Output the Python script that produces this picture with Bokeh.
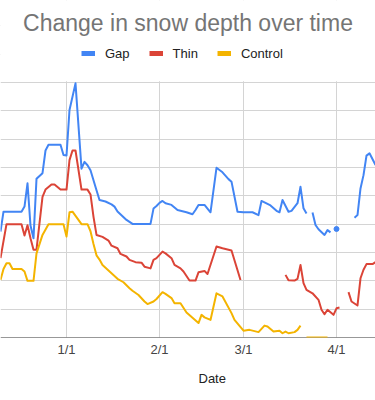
import math
from datetime import datetime
import pandas as pd
from bokeh.plotting import figure
from bokeh.models import (Range1d, DatetimeTickFormatter, MonthsTicker, SingleIntervalTicker,
                          Legend, LegendItem, Span, Title, Label, BoxAnnotation)
from bokeh.embed import file_html
from bokeh.resources import INLINE

nan = float("nan")

title_text = "Change in snow depth over time"
x_title = "Date"
series_names = ["Gap", "Thin", "Control"]
series_colors = ["#4285F4", "#DB4437", "#F4B400"]

gap_dates = ["2018-12-10", "2018-12-11", "2018-12-17", "2018-12-18", "2018-12-19", "2018-12-20",
             "2018-12-21", "2018-12-22", "2018-12-24", "2018-12-25", "2018-12-26", "2018-12-30",
             "2018-12-31", "2019-01-01", "2019-01-02", "2019-01-04", "2019-01-06", "2019-01-07",
             "2019-01-08", "2019-01-09", "2019-01-11", "2019-01-12", "2019-01-14", "2019-01-16",
             "2019-01-17", "2019-01-18", "2019-01-21", "2019-01-23", "2019-01-29", "2019-01-30",
             "2019-01-31", "2019-02-01", "2019-02-02", "2019-02-03", "2019-02-05", "2019-02-07",
             "2019-02-10", "2019-02-12", "2019-02-13", "2019-02-14", "2019-02-16", "2019-02-18",
             "2019-02-20", "2019-02-22", "2019-02-24", "2019-02-25", "2019-02-27", "2019-03-01",
             "2019-03-04", "2019-03-06", "2019-03-07", "2019-03-08", "2019-03-10", "2019-03-12",
             "2019-03-13", "2019-03-14", "2019-03-16", "2019-03-17", "2019-03-19", "2019-03-20",
             "2019-03-21", "2019-03-22", "2019-03-23", "2019-03-24", "2019-03-25", "2019-03-26",
             "2019-03-28", "2019-03-29", "2019-03-30", "2019-03-31", "2019-04-01", "2019-04-02",
             "2019-04-07", "2019-04-08", "2019-04-09", "2019-04-10", "2019-04-11", "2019-04-12",
             "2019-04-14"]
gap_values = [37.4, 44.4, 44.4, 46.2, 54.4, 39.5,
              35.0, 56.0, 58.0, 66.0, 68.0, 68.0,
              64.4, 64.2, 80.3, 89.7, 59.6, 62.0,
              60.8, 59.0, 52.0, 48.5, 48.0, 47.0,
              46.2, 44.5, 41.5, 40.1, 40.1, 45.5,
              46.4, 47.5, 48.2, 47.4, 46.8, 45.0,
              44.2, 43.5, 45.0, 46.8, 46.8, 44.2,
              59.9, 58.3, 55.9, 55.0, 44.4, 44.2,
              44.2, 43.2, 48.2, 47.7, 46.6, 44.7,
              44.2, 48.5, 44.4, 44.7, 47.4, 53.2,
              45.6, 43.8, nan, 44.1, 39.7, 38.2,
              36.2, 37.9, 37.1, nan, 38.3, nan,
              42.3, 43.2, 52.6, 57.3, 64.2, 65.0,
              60.9]

thin_dates = ["2018-12-10", "2018-12-12", "2018-12-17", "2018-12-18", "2018-12-19", "2018-12-20",
              "2018-12-21", "2018-12-22", "2018-12-24", "2018-12-25", "2018-12-27", "2018-12-28",
              "2018-12-30", "2019-01-01", "2019-01-02", "2019-01-03", "2019-01-04", "2019-01-06",
              "2019-01-08", "2019-01-09", "2019-01-10", "2019-01-11", "2019-01-13", "2019-01-15",
              "2019-01-16", "2019-01-18", "2019-01-19", "2019-01-21", "2019-01-22", "2019-01-24",
              "2019-01-26", "2019-01-27", "2019-01-29", "2019-01-30", "2019-01-31", "2019-02-02",
              "2019-02-03", "2019-02-05", "2019-02-06", "2019-02-08", "2019-02-09", "2019-02-11",
              "2019-02-13", "2019-02-14", "2019-02-16", "2019-02-17", "2019-02-20", "2019-02-22",
              "2019-02-25", "2019-02-28", "2019-03-01", "2019-03-15", "2019-03-16", "2019-03-18",
              "2019-03-19", "2019-03-20", "2019-03-21", "2019-03-22", "2019-03-24", "2019-03-26",
              "2019-03-27", "2019-03-28", "2019-03-29", "2019-03-31", "2019-04-01", "2019-04-02",
              "2019-04-03", "2019-04-05", "2019-04-06", "2019-04-08", "2019-04-09", "2019-04-10",
              "2019-04-11", "2019-04-13", "2019-04-14"]
thin_values = [28.0, 40.0, 40.0, 36.0, 39.6, 35.0,
               31.0, 31.0, 49.6, 52.2, 54.0, 54.0,
               52.2, 52.2, 62.6, 66.0, 66.0, 52.2,
               52.2, 50.5, 42.6, 36.2, 35.5, 34.2,
               32.4, 31.5, 29.5, 28.6, 27.4, 26.6,
               26.4, 25.0, 24.4, 27.4, 28.0, 30.3,
               29.7, 28.0, 25.6, 24.4, 23.3, 20.1,
               20.1, 23.0, 23.5, 22.4, 32.1, 31.5,
               30.7, 20.3, nan, 22.1, 20.2, 20.1,
               20.7, 25.6, 19.2, 16.8, 15.6, 13.3,
               9.8, 8.2, 9.8, 8.0, 10.3, 10.6,
               nan, 16.0, 12.7, 11.3, 20.9, 23.9,
               25.9, 25.9, 26.6]

control_dates = ["2018-12-10", "2018-12-11", "2018-12-12", "2018-12-13", "2018-12-14", "2018-12-17",
                 "2018-12-18", "2018-12-19", "2018-12-21", "2018-12-22", "2018-12-24", "2018-12-26",
                 "2018-12-31", "2019-01-01", "2019-01-02", "2019-01-03", "2019-01-06", "2019-01-08",
                 "2019-01-09", "2019-01-10", "2019-01-11", "2019-01-12", "2019-01-13", "2019-01-16",
                 "2019-01-18", "2019-01-20", "2019-01-22", "2019-01-23", "2019-01-25", "2019-01-27",
                 "2019-01-28", "2019-01-30", "2019-01-31", "2019-02-02", "2019-02-03", "2019-02-05",
                 "2019-02-06", "2019-02-08", "2019-02-10", "2019-02-14", "2019-02-15", "2019-02-16",
                 "2019-02-18", "2019-02-20", "2019-02-22", "2019-02-25", "2019-02-26", "2019-03-01",
                 "2019-03-03", "2019-03-06", "2019-03-08", "2019-03-09", "2019-03-11", "2019-03-13",
                 "2019-03-14", "2019-03-15", "2019-03-16", "2019-03-18", "2019-03-19", "2019-03-20",
                 "2019-03-21", "2019-03-22", "2019-03-29"]
control_values = [20.3, 24.2, 26.2, 26.2, 24.2, 24.2,
                  23.3, 20.0, 20.0, 29.7, 36.2, 40.0,
                  40.0, 35.6, 44.2, 44.4, 40.0, 40.0,
                  37.5, 33.0, 29.0, 27.5, 25.6, 22.7,
                  20.7, 19.5, 17.4, 16.5, 15.0, 12.7,
                  11.8, 12.7, 13.6, 16.0, 15.4, 13.9,
                  12.1, 12.1, 8.8, 5.1, 8.0, 7.1,
                  6.2, 15.6, 14.5, 8.6, 6.2, 2.4,
                  2.7, 1.9, 4.2, 3.9, 2.1, 2.4,
                  1.5, 2.1, 1.5, 1.9, 2.7, 4.2,
                  nan, 0.0, 0.0]

x_start = datetime(2018, 12, 10)
x_end = datetime(2019, 4, 14)
y_max = 90
y_step = 10

FONT = "Liberation Sans"

# layout (pixels)
W, H = 375, 400
frame_bottom = 337          # page y of the baseline
grid_top = 82               # page y of the top gridline (y_max)
y_top = y_max * frame_bottom / (frame_bottom - grid_top)   # frame reaches the page top

p = figure(width=W, height=H, x_axis_type="datetime", output_backend="svg",
           toolbar_location=None, title=None,
           x_range=Range1d(x_start, x_end), y_range=Range1d(0, y_top),
           min_border_left=0, min_border_right=0, min_border_top=0,
           min_border_bottom=H - frame_bottom)
p.outline_line_color = None
p.background_fill_color = "white"
p.border_fill_color = "white"

# grids
p.ygrid.ticker = SingleIntervalTicker(interval=y_step)
p.xgrid.ticker = MonthsTicker(months=list(range(12)))
p.grid.grid_line_color = "#d4d4d4"
p.grid.grid_line_width = 1
# blank out the area above the chart (title/legend area)
p.add_layout(BoxAnnotation(bottom=y_max + 0.4, fill_color="white", fill_alpha=1,
                           line_color=None, level="underlay"))

# baseline
p.add_layout(Span(location=0, dimension="width", line_color="#333333", line_width=1,
                  level="underlay"))

# data lines
all_series = [(gap_dates, gap_values), (thin_dates, thin_values), (control_dates, control_values)]
for (dates, vals), color in zip(all_series, series_colors):
    xs = pd.to_datetime(dates)
    p.line(x=xs, y=vals, line_color=color, line_width=2, line_join="round")
    iso_x, iso_y = [], []
    for i, v in enumerate(vals):
        if math.isnan(v):
            continue
        left = i == 0 or math.isnan(vals[i - 1])
        right = i == len(vals) - 1 or math.isnan(vals[i + 1])
        if left and right:
            iso_x.append(xs[i])
            iso_y.append(v)
    if iso_x:
        p.scatter(x=iso_x, y=iso_y, size=5, fill_color=color, line_color=color)

# axes
p.yaxis.visible = False
xa = p.xaxis[0]
xa.ticker = MonthsTicker(months=list(range(12)))
fmt = "%-m/%-d"
xa.formatter = DatetimeTickFormatter(days=fmt, months=fmt, years=fmt, hours=fmt, hourmin=fmt)
xa.axis_line_color = None
xa.major_tick_line_color = None
xa.minor_tick_line_color = None
xa.major_tick_out = 0
xa.major_tick_in = 0
xa.major_label_standoff = 4
xa.major_label_text_font = FONT
xa.major_label_text_font_size = "13px"
xa.major_label_text_color = "#444444"

# title inside the (extended) frame
p.add_layout(Label(x=187.5, y=frame_bottom - 22, x_units="screen", y_units="screen",
                   text=title_text, text_font=FONT, text_font_size="23px",
                   text_color="#757575", text_align="center", text_baseline="alphabetic"))

# legend inside the (extended) frame; swatch renderers hold one missing point
dummies = [p.line(x=[x_start], y=[nan], line_color=c, line_width=5) for c in series_colors]
legend = Legend(items=[LegendItem(label=n, renderers=[r]) for n, r in zip(series_names, dummies)],
                location=(81, frame_bottom - 53 - 7.5), orientation="horizontal",
                glyph_width=14, glyph_height=14, label_standoff=10, spacing=19,
                padding=0, margin=0, border_line_color=None, background_fill_alpha=0,
                label_text_font=FONT, label_text_font_size="13px", label_text_color="#222222",
                label_height=14, label_width=20)
p.add_layout(legend)

# x axis title below the axis
p.add_layout(Title(text=x_title, align="left", offset=198, vertical_align="top",
                   text_font=FONT, text_font_size="13px", text_font_style="normal",
                   text_color="#222222", standoff=22), "below")

open("out.html", "w").write(file_html(p, INLINE))
